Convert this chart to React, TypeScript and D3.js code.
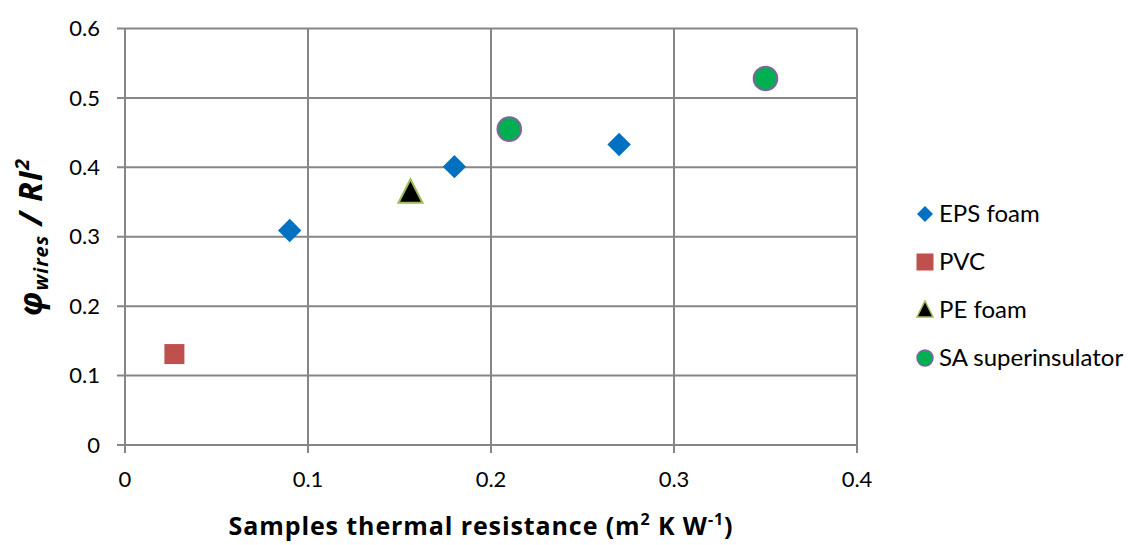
import React from "react";
import * as d3 from "d3";

const xTicks = [0, 0.1, 0.2, 0.3, 0.4];
const yTicks = [0, 0.1, 0.2, 0.3, 0.4, 0.5, 0.6];

const epsX = [0.09, 0.18, 0.27];
const epsY = [0.309, 0.401, 0.433];
const pvcX = [0.027];
const pvcY = [0.131];
const peX = [0.156];
const peY = [0.364];
const saX = [0.21, 0.35];
const saY = [0.455, 0.528];

const legendLabels = ["EPS foam", "PVC", "PE foam", "SA superinsulator"];

const FONT = "Lato, 'Open Sans', sans-serif";
const TFONT = "'Open Sans', Lato, sans-serif";
const GRID = "#868686";

export default function App() {
  const W = 1130, H = 545;
  const x = d3.scaleLinear().domain([0, 0.4]).range([125, 857]);
  const y = d3.scaleLinear().domain([0, 0.6]).range([445, 28.5]);

  const diamond = (s: number) => `M0,${-s}L${s},0L0,${s}L${-s},0Z`;

  const legendY = [214, 262, 310, 358];
  const lx = 925;

  return (
    <svg width={W} height={H} style={{ position: "absolute", left: 0, top: 0, background: "#fff" }} fontFamily={FONT}>
      {/* grid */}
      {yTicks.map((t) => (
        <line key={"gy" + t} x1={117} x2={x(0.4)} y1={y(t)} y2={y(t)} stroke={GRID} strokeWidth={2} />
      ))}
      {xTicks.map((t) => (
        <line key={"gx" + t} x1={x(t)} x2={x(t)} y1={y(0.6)} y2={453} stroke={GRID} strokeWidth={2} />
      ))}
      {/* tick labels */}
      {yTicks.map((t) => (
        <text key={"ly" + t} x={100} y={y(t)} dy="0.35em" textAnchor="end" fontSize={22} fill="#000">
          {t === 0 ? "0" : t.toFixed(1)}
        </text>
      ))}
      {xTicks.map((t) => (
        <text key={"lx" + t} x={x(t)} y={487} textAnchor="middle" fontSize={22} fill="#000">
          {t === 0 ? "0" : t.toFixed(1)}
        </text>
      ))}
      {/* markers */}
      {pvcX.map((v, i) => (
        <rect key={"pvc" + i} x={x(v) - 10} y={y(pvcY[i]) - 10} width={20} height={20} fill="#C0504D" />
      ))}
      {epsX.map((v, i) => (
        <path key={"eps" + i} d={diamond(11.7)} transform={`translate(${x(v)},${y(epsY[i])})`} fill="#0070C0" />
      ))}
      {peX.map((v, i) => (
        <path key={"pe" + i} d={`M0,-13L12,10.5L-12,10.5Z`} transform={`translate(${x(v)},${y(peY[i])})`} fill="#000" stroke="#9BBB59" strokeWidth={2} />
      ))}
      {saX.map((v, i) => (
        <circle key={"sa" + i} cx={x(v)} cy={y(saY[i])} r={11.8} fill="#00B050" stroke="#8064A2" strokeWidth={2} />
      ))}
      {/* legend */}
      <path d={diamond(8)} transform={`translate(${lx},${legendY[0]})`} fill="#0070C0" />
      <rect x={lx - 8.5} y={legendY[1] - 8.5} width={17} height={17} fill="#C0504D" />
      <path d={`M0,-9L8,7L-8,7Z`} transform={`translate(${lx},${legendY[2]})`} fill="#000" stroke="#9BBB59" strokeWidth={1.5} />
      <circle cx={lx} cy={legendY[3]} r={8} fill="#00B050" stroke="#8064A2" strokeWidth={1.5} />
      {legendLabels.map((l, i) => (
        <text key={l} x={939} y={legendY[i]} dy="0.35em" fontSize={24} fill="#000">{l}</text>
      ))}
      {/* x title */}
      <text x={481} y={535} textAnchor="middle" fontSize={25} fontWeight="bold" letterSpacing={0.9} fill="#000" fontFamily={TFONT}>
        Samples thermal resistance (m
        <tspan fontSize={16} dy={-10}>2</tspan>
        <tspan dy={10}> K W</tspan>
        <tspan fontSize={16} dy={-10}>-1</tspan>
        <tspan dy={10}>)</tspan>
      </text>
      {/* y title */}
      <text transform="translate(42,237) rotate(-90)" textAnchor="middle" fontSize={32} fontWeight="bold" fontStyle="italic" letterSpacing={1} fill="#000" fontFamily={TFONT}>
        φ
        <tspan fontSize={20} dy={6}>wires</tspan>
        <tspan dy={-6}> / RI</tspan>
        <tspan fontSize={20} dy={-13}>2</tspan>
      </text>
    </svg>
  );
}
